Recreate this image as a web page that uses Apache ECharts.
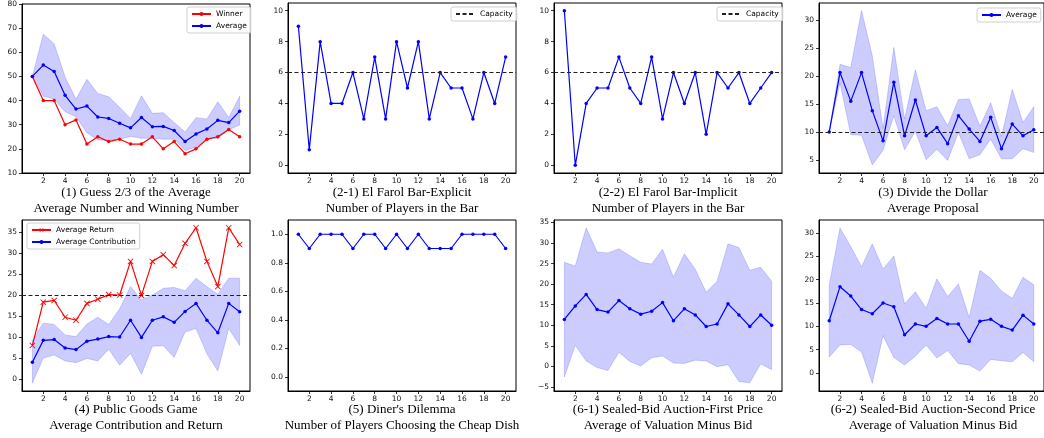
<!DOCTYPE html>
<html><head><meta charset="utf-8">
<script src="https://cdn.jsdelivr.net/npm/echarts@6/dist/echarts.min.js"></script>
<style>html,body{margin:0;padding:0;background:#fff}#c{width:1044px;height:438px}</style>
</head><body><div id="c"></div>
<script>
// ---------- data ----------
const ROUNDS = [1,2,3,4,5,6,7,8,9,10,11,12,13,14,15,16,17,18,19,20];
const X_TICKS = [2,4,6,8,10,12,14,16,18,20];

// (1) Guess 2/3 of the Average
const GUESS_WINNER = [50,40,40,30,32,22,25,23,24,22,22,25,20,23,18,20,24,25,28,25];
const GUESS_AVG    = [50,54.7,52,42.2,36.5,37.7,33.2,32.6,30.6,28.7,33,29.2,29.3,27.6,23,26.2,28.2,31.8,30.9,35.6];
const GUESS_HI     = [50,67.5,63.5,49.8,40.6,48.8,42.9,41.6,37.2,32.6,42,34.7,35,30.9,27,32.9,32.4,39.5,33,41.8];
const GUESS_LO     = [50,41.8,40.7,35.4,33.3,26.7,23.7,23.5,24,25.1,24.4,24.4,24,24,19.3,20.7,24,24.4,27.8,29.9];
const GUESS_YTICKS = [10,20,30,40,50,60,70,80];

// (2-1) El Farol Bar - Explicit, (2-2) Implicit
const EXPLICIT = [9,1,8,4,4,6,3,7,3,8,5,8,3,6,5,5,3,6,4,7];
const IMPLICIT = [10,0,4,5,5,7,5,4,7,3,6,4,6,2,6,5,6,4,5,6];
const CAPACITY = 6;
const BAR_YTICKS = [0,2,4,6,8,10];

// (3) Divide the Dollar
const DOLLAR_AVG = [10,20.6,15.5,20.6,13.8,8.4,18.9,9.3,15.7,9.3,10.8,7.9,12.9,10.5,8.3,12.6,7.0,11.4,9.3,10.4];
const DOLLAR_HI  = [10,22.1,21.5,31.7,23.6,10.6,25.1,12.3,21.1,13.8,14.5,11.1,15.8,15.9,11,15.2,9.2,17.6,11.7,14.5];
const DOLLAR_LO  = [10,18.8,9.5,9.4,4.1,6.7,12.9,6.8,10.1,5,6.9,4.9,9.9,5.2,5.9,8.7,5.2,5.2,7,6.3];
const DOLLAR_REF = 10;
const DOLLAR_YTICKS = [5,10,15,20,25,30];

// (4) Public Goods Game
const PG_RETURN  = [8,18.3,18.7,14.7,14,18,19,20.1,20,28,19.9,28,29.6,27,32.3,36,28,22,36,32];
const PG_CONTRIB = [4,9.2,9.4,7.4,7,9,9.5,10.1,10,14,9.9,14,14.8,13.5,16.1,18,14,11,18,16];
const PG_HI      = [9.2,13.3,13,10.5,10.1,13.1,14.7,13,16.7,22,18.8,20,21.6,21.8,21,24,22,20.2,24,24];
const PG_LO      = [-1,5,5.7,4.3,3.9,4.9,4.3,7.1,3.3,6.1,1.1,7.8,7.9,5.1,11.2,12,6,1.9,12,8];
const PG_REF = 20;
const PG_YTICKS = [0,5,10,15,20,25,30,35];

// (5) Diner's Dilemma
const DINER = [1,0.9,1,1,1,0.9,1,1,0.9,1,0.9,1,0.9,0.9,0.9,1,1,1,1,0.9];
const DINER_YTICKS = [0,0.2,0.4,0.6,0.8,1.0];

// (6-1) First Price
const FP_AVG = [11.4,14.7,17.5,13.8,13.2,16,14,12.7,13.4,15.5,11.1,14,12.5,9.7,10.3,15.2,12.5,9.7,12.5,10];
const FP_HI  = [25.3,24.4,33.7,27.8,27.6,28.6,26.9,25.3,24.9,28.5,21.7,27.4,23.6,18,20.7,29.8,28.9,23.4,24.1,20.7];
const FP_LO  = [-2.6,5.1,1.3,-0.3,-1.0,3.4,1.2,0.1,2.1,2.5,0.8,0.7,1.5,1.3,-0.1,0.4,-3.7,-4.0,0.6,-0.8];
const FP_YTICKS = [-5,0,5,10,15,20,25,30,35];

// (6-2) Second Price
const SP_AVG = [11.2,18.5,16.5,13.6,12.7,15,14.2,8.2,10.5,10,11.7,10.5,10.5,6.8,11.1,11.5,10,9.2,12.4,10.5];
const SP_HI  = [18.9,31.1,27.1,22.8,27.7,22.3,25.1,14.8,17.4,13.9,20.2,16.4,19.1,11.9,22,20.3,17.6,16,20.5,18.9];
const SP_LO  = [3.4,6,6.1,4.5,-2.2,8,3.3,1.7,3.6,6,3.2,4.8,2,1.7,0.4,2.9,2.6,2.4,4.4,2.4];
const SP_YTICKS = [0,5,10,15,20,25,30];

const TITLES = [
  ['(1) Guess 2/3 of the Average','Average Number and Winning Number'],
  ['(2-1) El Farol Bar-Explicit','Number of Players in the Bar'],
  ['(2-2) El Farol Bar-Implicit','Number of Players in the Bar'],
  ['(3) Divide the Dollar','Average Proposal'],
  ['(4) Public Goods Game','Average Contribution and Return'],
  ["(5) Diner's Dilemma",'Number of Players Choosing the Cheap Dish'],
  ['(6-1) Sealed-Bid Auction-First Price','Average of Valuation Minus Bid'],
  ['(6-2) Sealed-Bid Auction-Second Price','Average of Valuation Minus Bid']
];

// ---------- layout ----------
const BLUE = '#0000ff', RED = '#ff0000';
const LEFTS = [22, 288, 554, 819];
const PW = 228;
const ROWS = [{top:3, h:170, titleTop:185}, {top:220, h:171, titleTop:402}];
const YCFG = [
  {min:10, max:80, ticks:GUESS_YTICKS, dec:0},
  {min:-0.5, max:10.5, ticks:BAR_YTICKS, dec:0},
  {min:-0.5, max:10.5, ticks:BAR_YTICKS, dec:0},
  {min:2.65, max:33.05, ticks:DOLLAR_YTICKS, dec:0},
  {min:-2.85, max:37.85, ticks:PG_YTICKS, dec:0},
  {min:-0.1, max:1.1, ticks:DINER_YTICKS, dec:1},
  {min:-6.0, max:35.6, ticks:FP_YTICKS, dec:0},
  {min:-3.87, max:32.8, ticks:SP_YTICKS, dec:0}
];
const TICKFONT = {fontSize:7.5, fontFamily:'DejaVu Sans', color:'#111'};

const grids=[], xAxes=[], yAxes=[], titles=[];
for (let i=0;i<8;i++){
  const row = ROWS[Math.floor(i/4)], col = i%4;
  grids.push({left:LEFTS[col], top:row.top, width:PW, height:row.h, show:true, borderColor:'#000', borderWidth:1, containLabel:false});
  xAxes.push({type:'value', gridIndex:i, min:0.05, max:20.95,
    axisLine:{show:true, onZero:false, lineStyle:{color:'#000', width:1}},
    axisTick:{show:true, customValues:X_TICKS, length:3, lineStyle:{color:'#000', width:0.8}},
    axisLabel:Object.assign({customValues:X_TICKS, margin:4}, TICKFONT),
    splitLine:{show:false}});
  const yc = YCFG[i];
  yAxes.push({type:'value', gridIndex:i, min:yc.min, max:yc.max,
    axisLine:{show:true, onZero:false, lineStyle:{color:'#000', width:1}},
    axisTick:{show:true, customValues:yc.ticks, length:3, lineStyle:{color:'#000', width:0.8}},
    axisLabel:Object.assign({customValues:yc.ticks, margin:5,
      formatter:(v)=>{const s=Number(v).toFixed(yc.dec); return s.charAt(0)==='-'?'\u2212'+s.slice(1):s;}}, TICKFONT),
    splitLine:{show:false}});
  titles.push({text:TITLES[i][0]+'\n'+TITLES[i][1], left:LEFTS[col]+PW/2, top:row.titleTop, textAlign:'center', padding:0,
    textStyle:{fontFamily:'Liberation Serif', fontSize:13, fontWeight:'normal', color:'#000', lineHeight:16}});
}

function pts(vals){ return ROUNDS.map((r,k)=>[r, vals[k]]); }
function lineSeries(name, idx, vals, color, symbol, size){
  return {type:'line', name:name, xAxisIndex:idx, yAxisIndex:idx, data:pts(vals),
    symbol:symbol||'circle', symbolSize:size||3.5, showSymbol:true,
    lineStyle:{color:color, width:1.2}, itemStyle:{color:color}, z:3};
}
function band(idx, lo, hi){
  return {type:'custom', xAxisIndex:idx, yAxisIndex:idx, silent:true, z:1,
    data:ROUNDS.map((r,k)=>[r, lo[k], hi[k]]),
    encode:{x:0, y:[1,2]},
    renderItem:function(params, api){
      if (params.dataIndex !== 0) return null;
      const p=[];
      for (let k=0;k<ROUNDS.length;k++) p.push(api.coord([ROUNDS[k], hi[k]]));
      for (let k=ROUNDS.length-1;k>=0;k--) p.push(api.coord([ROUNDS[k], lo[k]]));
      return {type:'polygon', shape:{points:p}, style:{fill:'rgba(0,0,255,0.2)', stroke:'rgba(0,0,255,0.2)', lineWidth:0.8}};
    }};
}
const DASH = {color:'#222', width:1.2, type:[4,2.5]};
function refLine(name, idx, y){
  return {type:'line', name:name, xAxisIndex:idx, yAxisIndex:idx, data:[], symbol:'none',
    lineStyle:DASH, itemStyle:{color:'#222'},
    markLine:{silent:true, symbol:['none','none'], label:{show:false}, lineStyle:DASH, data:[{yAxis:y}], animation:false}};
}
const XMARK = 'path://M1,0 L5,4 L9,0 L10,1 L6,5 L10,9 L9,10 L5,6 L1,10 L0,9 L4,5 L0,1 Z';

const series = [
  band(0, GUESS_LO, GUESS_HI),
  lineSeries('Winner', 0, GUESS_WINNER, RED),
  lineSeries('Average', 0, GUESS_AVG, BLUE),
  refLine('Capacity', 1, CAPACITY),
  lineSeries('Explicit', 1, EXPLICIT, BLUE),
  refLine('Capacity', 2, CAPACITY),
  lineSeries('Implicit', 2, IMPLICIT, BLUE),
  band(3, DOLLAR_LO, DOLLAR_HI),
  refLine('ref3', 3, DOLLAR_REF),
  lineSeries('Average', 3, DOLLAR_AVG, BLUE),
  band(4, PG_LO, PG_HI),
  refLine('ref4', 4, PG_REF),
  lineSeries('Average Return', 4, PG_RETURN, RED, XMARK, 6),
  lineSeries('Average Contribution', 4, PG_CONTRIB, BLUE),
  lineSeries('Diner', 5, DINER, BLUE),
  band(6, FP_LO, FP_HI),
  lineSeries('First', 6, FP_AVG, BLUE),
  band(7, SP_LO, SP_HI),
  lineSeries('Second', 7, SP_AVG, BLUE)
];

const LEG = {orient:'vertical', padding:[3,4,3,4], itemGap:4, itemWidth:19, itemHeight:5,
  textStyle:{fontSize:7.5, fontFamily:'DejaVu Sans', color:'#000'},
  borderColor:'#cfcfcf', borderWidth:1, borderRadius:2, backgroundColor:'rgba(255,255,255,0.8)', selectedMode:false};
const CAP_ITEM = {name:'Capacity', itemStyle:{opacity:0}};
const legends = [
  Object.assign({data:['Winner','Average'], left:187, top:7}, LEG),
  Object.assign({data:[CAP_ITEM], left:451, top:7}, LEG),
  Object.assign({data:[CAP_ITEM], left:717, top:7}, LEG),
  Object.assign({data:['Average'], left:977, top:8}, LEG),
  Object.assign({data:['Average Return','Average Contribution'], left:27, top:223}, LEG)
];

const chart = echarts.init(document.getElementById('c'), null, {renderer:'canvas'});
chart.setOption({animation:false, backgroundColor:'#fff', title:titles, grid:grids, xAxis:xAxes, yAxis:yAxes, legend:legends, series:series});
</script></body></html>
